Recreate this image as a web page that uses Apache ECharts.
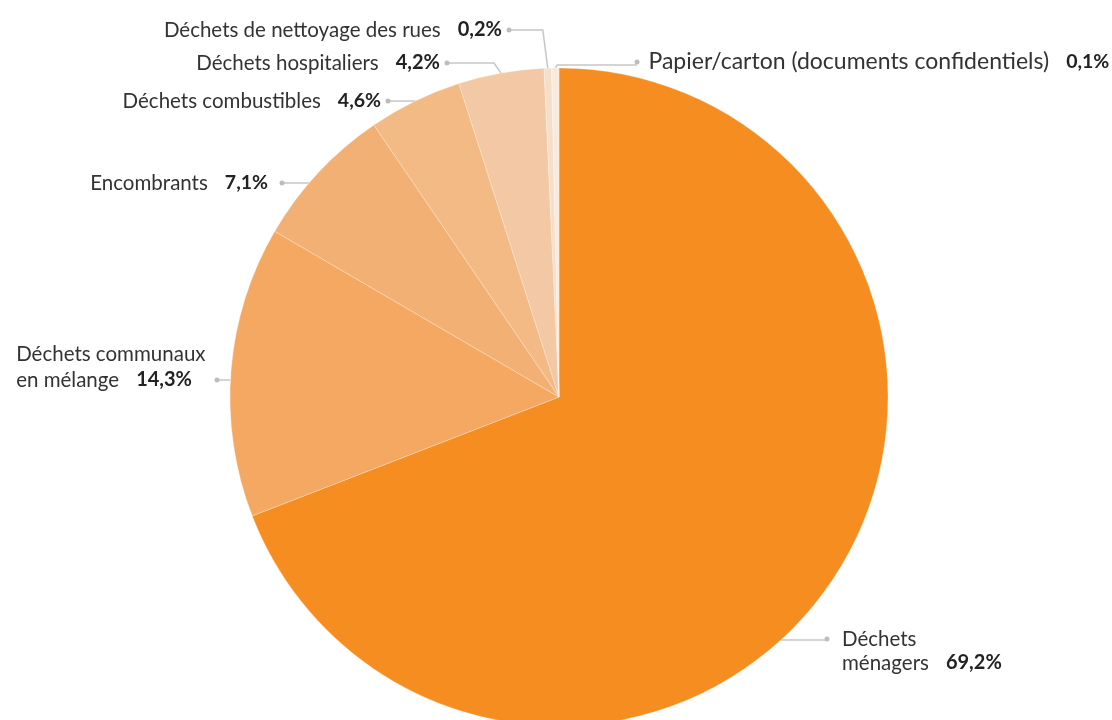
<!DOCTYPE html>
<html>
<head>
<meta charset="utf-8">
<script src="https://cdn.jsdelivr.net/npm/echarts@6/dist/echarts.min.js"></script>
<style>
html,body{margin:0;padding:0;background:#fff;}
#chart{width:1112px;height:720px;}
</style>
</head>
<body>
<div id="chart"></div>
<script>
// ---- data ----
const categories = [
  'Déchets ménagers',
  'Déchets communaux en mélange',
  'Encombrants',
  'Déchets combustibles',
  'Déchets hospitaliers',
  'Déchets de nettoyage des rues',
  'Papier/carton (documents confidentiels)'
];
const values = [69.2, 14.3, 7.1, 4.6, 4.2, 0.2, 0.1];
const palette = ['#F58D21', '#F4A862', '#F2B074', '#F3BA85', '#F3C8A4', '#F5DFCA', '#F8EBDD'];

// ---- layout (label placement, not data) ----
const CX = 559, CY = 397, R = 329;
const labelPlacement = [
  {side: 'right', dotX: 827, dotY: 640, y: 651, breakAt: 1, lh: 24, dg: 12.5, nf: 20.5, vf: 20},
  {side: 'left',  dotX: 217, dotY: 380, y: 367, breakAt: 2, lh: 26, dg: 22.5, nf: 20.5, vf: 20},
  {side: 'left',  dotX: 282, dotY: 183, y: 183, lh: 26, dg: 11.5, nf: 20.5, vf: 19.5},
  {side: 'left',  dotX: 388, dotY: 101, y: 101, lh: 26, dg: 4.5, nf: 20.5, vf: 19.5},
  {side: 'left',  dotX: 447, dotY: 63,  y: 63,  lh: 26, dg: 4.5, nf: 20.5, vf: 20, bend: -7},
  {side: 'left',  dotX: 509, dotY: 30,  y: 30,  lh: 26, dg: 4.5, nf: 20.5, vf: 20, bend: -5},
  {side: 'right', dotX: 637, dotY: 65,  y: 62,  lh: 28, dg: 9,   nf: 23,   vf: 19.5, bend: 2}
];
const DOT = 5;
const NAME_GAP = 17;

const fmt = v => v.toFixed(1).replace('.', ',') + '%';

const FONT = 'Lato, "Noto Sans", sans-serif';
const rich = {
  d: {width: DOT, height: DOT, backgroundColor: '#bdbdbd', borderRadius: DOT / 2},
  g: {width: NAME_GAP}
};
labelPlacement.forEach((L, i) => {
  rich['n' + i]  = {fontFamily: FONT, fontSize: L.nf, color: '#333', lineHeight: L.lh};
  rich['nl' + i] = {fontFamily: FONT, fontSize: L.nf, color: '#333', lineHeight: L.lh, align: 'left'};
  rich['v' + i]  = {fontFamily: FONT, fontSize: L.vf, color: '#222', fontWeight: 'bold', lineHeight: L.lh};
  rich['dg' + i] = {width: L.dg};
  rich['sp' + i] = {width: L.dg + DOT};
});

function cumulativeMid(i) {
  const total = values.reduce((a, b) => a + b, 0);
  let before = 0;
  for (let k = 0; k < i; k++) before += values[k];
  const ang = (before + values[i] / 2) / total * 2 * Math.PI;
  return [CX + R * Math.sin(ang), CY - R * Math.cos(ang)];
}

const chart = echarts.init(document.getElementById('chart'));
chart.setOption({
  backgroundColor: '#fff',
  animation: false,
  series: [{
    type: 'pie',
    center: [CX, CY],
    radius: R,
    startAngle: 90,
    clockwise: true,
    minAngle: 1.3,
    avoidLabelOverlap: false,
    color: palette,
    itemStyle: {borderColor: 'rgba(255,255,255,0.45)', borderWidth: 0.6},
    emphasis: {disabled: true},
    data: categories.map((c, i) => ({name: c, value: values[i]})),
    label: {
      show: true,
      position: 'outside',
      rich: rich,
      formatter: p => {
        const i = p.dataIndex, L = labelPlacement[i];
        const pct = fmt(values[i]);
        const words = p.name.split(' ');
        const l1 = L.breakAt ? words.slice(0, L.breakAt).join(' ') : p.name;
        const l2 = L.breakAt ? words.slice(L.breakAt).join(' ') : '';
        if (L.side === 'left') {
          if (L.breakAt) {
            return `{nl${i}|${l1}}\n{n${i}|${l2}}{g|}{v${i}|${pct}}{dg${i}|}{d|}`;
          }
          return `{n${i}|${p.name}}{g|}{v${i}|${pct}}{dg${i}|}{d|}`;
        }
        if (L.breakAt) {
          return `{d|}{dg${i}|}{n${i}|${l1}}\n{sp${i}|}{n${i}|${l2}}{g|}{v${i}|${pct}}`;
        }
        return `{d|}{dg${i}|}{n${i}|${p.name}}{g|}{v${i}|${pct}}`;
      }
    },
    labelLine: {
      show: true,
      length: 10,
      length2: 10,
      lineStyle: {color: '#c6c6c6', width: 1.5}
    },
    labelLayout: params => {
      const i = params.dataIndex, L = labelPlacement[i];
      const x = L.side === 'left' ? L.dotX + DOT / 2 : L.dotX - DOT / 2;
      const dy = L.dotY - CY;
      let pts;
      if (L.bend === undefined) {
        const ex = CX + (L.side === 'left' ? -1 : 1) * Math.sqrt(R * R - dy * dy);
        pts = [[ex, L.dotY], [ex, L.dotY], [L.dotX, L.dotY]];
      } else {
        const p0 = (params.labelLinePoints && params.labelLinePoints[0]) || cumulativeMid(i);
        pts = [[p0[0], p0[1]], [p0[0] + L.bend, L.dotY], [L.dotX, L.dotY]];
      }
      return {
        x: x,
        y: L.y,
        align: L.side === 'left' ? 'right' : 'left',
        verticalAlign: 'middle',
        labelLinePoints: pts
      };
    }
  }]
});
</script>
</body>
</html>
